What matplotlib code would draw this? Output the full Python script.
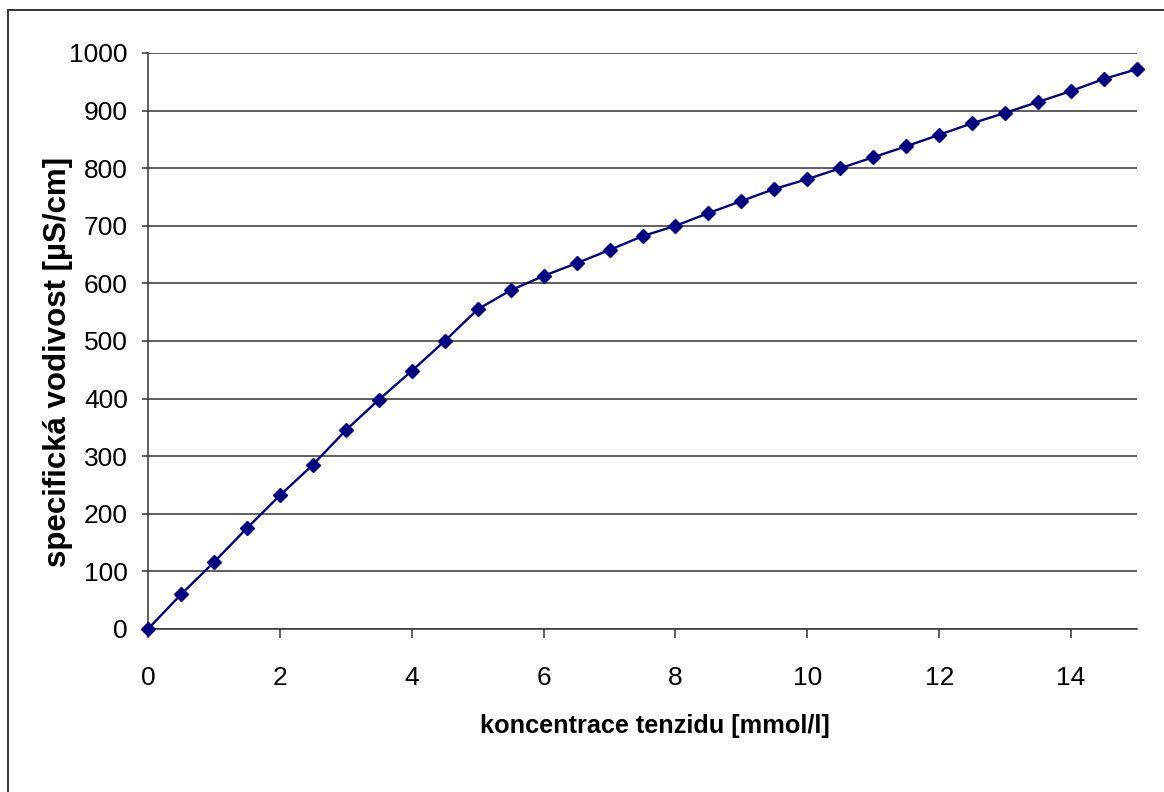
import matplotlib
matplotlib.use("Agg")
import matplotlib.pyplot as plt
from matplotlib.patches import Rectangle

# concentration of surfactant [mmol/l] and specific conductivity [uS/cm]
koncentrace = [0.0, 0.5, 1.0, 1.5, 2.0, 2.5, 3.0, 3.5, 4.0, 4.5, 5.0, 5.5, 6.0,
               6.5, 7.0, 7.5, 8.0, 8.5, 9.0, 9.5, 10.0, 10.5, 11.0, 11.5, 12.0,
               12.5, 13.0, 13.5, 14.0, 14.5, 15.0]
vodivost = [0, 60, 116, 175, 232, 285, 345, 398, 448, 500, 555, 588, 613,
            635, 658, 682, 700, 722, 743, 764, 781, 800, 819, 838, 858,
            878, 896, 915, 934, 955, 972]
x_ticks = [0, 2, 4, 6, 8, 10, 12, 14]
y_ticks = [0, 100, 200, 300, 400, 500, 600, 700, 800, 900, 1000]

plt.rcParams["font.family"] = ["Liberation Sans", "DejaVu Sans"]

W, H = 1164, 792
fig = plt.figure(figsize=(W / 100, H / 100), dpi=100)
fig.patch.set_facecolor("white")

# outer chart frame
fig.patches.append(Rectangle((8 / W, -0.05), 1.2, 1 - 10 / H + 0.05,
                             transform=fig.transFigure, fill=False,
                             edgecolor="#222222", linewidth=1.3))

ax = fig.add_axes([148 / W, 1 - 629 / H, (1137 - 148) / W, (629 - 53) / H])
ax.plot(koncentrace, vodivost, color="#000080", linewidth=1.7,
        marker="D", markersize=7.6, markerfacecolor="#000080",
        markeredgecolor="#000080", clip_on=False, zorder=3)

ax.set_xlim(0, 15)
ax.set_ylim(0, 1000)
ax.set_xticks(x_ticks)
ax.set_yticks(y_ticks)
ax.yaxis.grid(True, color="#333333", linewidth=1.1)
ax.set_axisbelow(True)

for s in ("top", "right"):
    ax.spines[s].set_visible(False)
for s in ("left", "bottom"):
    ax.spines[s].set_color("#333333")
    ax.spines[s].set_linewidth(1.1)

ax.tick_params(axis="x", direction="out", length=6.5, width=1.1,
               color="#333333", labelsize=19, pad=20)
ax.tick_params(axis="y", direction="out", length=4.5, width=1.1,
               color="#333333", labelsize=19, pad=10)

# axis titles
fig.text(655 / W, 1 - 733 / H, "koncentrace tenzidu [mmol/l]",
         fontsize=18.2, fontweight="bold", ha="center", va="baseline")
fig.text(66 / W, 1 - 361.5 / H, "specifická vodivost [µS/cm]",
         fontsize=22.5, fontweight="bold", ha="center", va="baseline",
         rotation=90, rotation_mode="anchor")

fig.savefig("out.png", dpi=100)
